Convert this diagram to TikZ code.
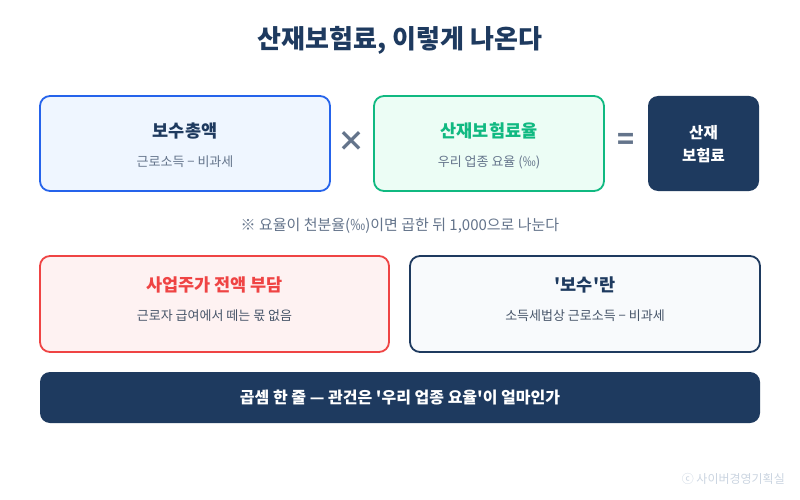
\documentclass[tikz,border=0pt]{standalone}
\usepackage{fontspec}
\setmainfont{Noto Sans CJK KR}
\definecolor{navy}{HTML}{1E3A5F}
\definecolor{blueb}{HTML}{2563EB}
\definecolor{bluef}{HTML}{EFF6FF}
\definecolor{greenb}{HTML}{10B981}
\definecolor{greenf}{HTML}{ECFDF5}
\definecolor{redb}{HTML}{EF4444}
\definecolor{redf}{HTML}{FEF2F2}
\definecolor{lightf}{HTML}{F8FAFC}
\definecolor{subgray}{HTML}{64748B}
\definecolor{subdark}{HTML}{475569}
\definecolor{footgray}{HTML}{CBD5E1}
\tikzset{
  card/.style={rounded corners=10pt, line width=1.8pt, inner sep=0pt},
  ttl/.style={font=\bfseries\fontsize{17.5}{20}\selectfont, inner sep=0pt},
  sub/.style={font=\fontsize{13}{15}\selectfont, text=subgray, inner sep=0pt},
  op/.style={font=\bfseries\fontsize{28}{30}\selectfont, text=subgray, inner sep=0pt},
}
\begin{document}
\begin{tikzpicture}[x=1pt,y=-1pt]
\useasboundingbox[fill=white] (0,0) rectangle (800,500);
\node[font=\bfseries\fontsize{26}{30}\selectfont, text=navy] (title) at (400,40) {산재보험료, 이렇게 나온다};

\node[card, draw=blueb, fill=bluef, minimum width=290pt, minimum height=95pt] (b1) at (185,143.5) {};
\node[ttl, text=navy] (b1t) at (185,131) {보수총액};
\node[sub] (b1s) at (185,162) {근로소득 − 비과세};

\node[op] (times) at (351,141) {×};

\node[card, draw=greenb, fill=greenf, minimum width=230pt, minimum height=95pt] (b2) at (489,143.5) {};
\node[ttl, text=greenb] (b2t) at (489,131) {산재보험료율};
\node[sub] (b2s) at (489,162) {우리 업종 요율 (‰)};

\node[op] (eq) at (626,141) {=};

\node[rounded corners=10pt, fill=navy, minimum width=111pt, minimum height=95pt, inner sep=0pt] (b3) at (703.5,143.5) {};
\node[font=\bfseries\fontsize{15.5}{23}\selectfont, text=white, align=center, inner sep=0pt] (b3t) at (703.5,144.5) {산재\\보험료};

\node[font=\fontsize{15}{17}\selectfont, text=subgray, inner sep=0pt] (note) at (400,226) {※ 요율이 천분율(‰)이면 곱한 뒤 1,000으로 나눈다};

\node[card, draw=redb, fill=redf, minimum width=349pt, minimum height=96pt] (b4) at (214.5,304) {};
\node[ttl, text=redb] (b4t) at (214.5,285) {사업주가 전액 부담};
\node[sub, text=subdark] (b4s) at (214.5,316) {근로자 급여에서 떼는 몫 없음};

\node[card, draw=navy, fill=lightf, minimum width=350pt, minimum height=96pt] (b5) at (585,304) {};
\node[ttl, text=navy] (b5t) at (585,285) {\textquotesingle 보수\textquotesingle 란};
\node[sub, text=subdark] (b5s) at (585,316) {소득세법상 근로소득 − 비과세};

\node[rounded corners=10pt, fill=navy, minimum width=720pt, minimum height=51pt, inner sep=0pt] (bar) at (400,397.5) {};
\node[font=\bfseries\fontsize{16}{19}\selectfont, text=white, inner sep=0pt] (bart) at (400,397.5) {곱셈 한 줄 — 관건은 \textquotesingle 우리 업종 요율\textquotesingle 이 얼마인가};

\node[font=\fontsize{12}{14}\selectfont, text=footgray, anchor=east, inner sep=0pt] (foot) at (785,479) {ⓒ 사이버경영기획실};
\end{tikzpicture}
\end{document}
